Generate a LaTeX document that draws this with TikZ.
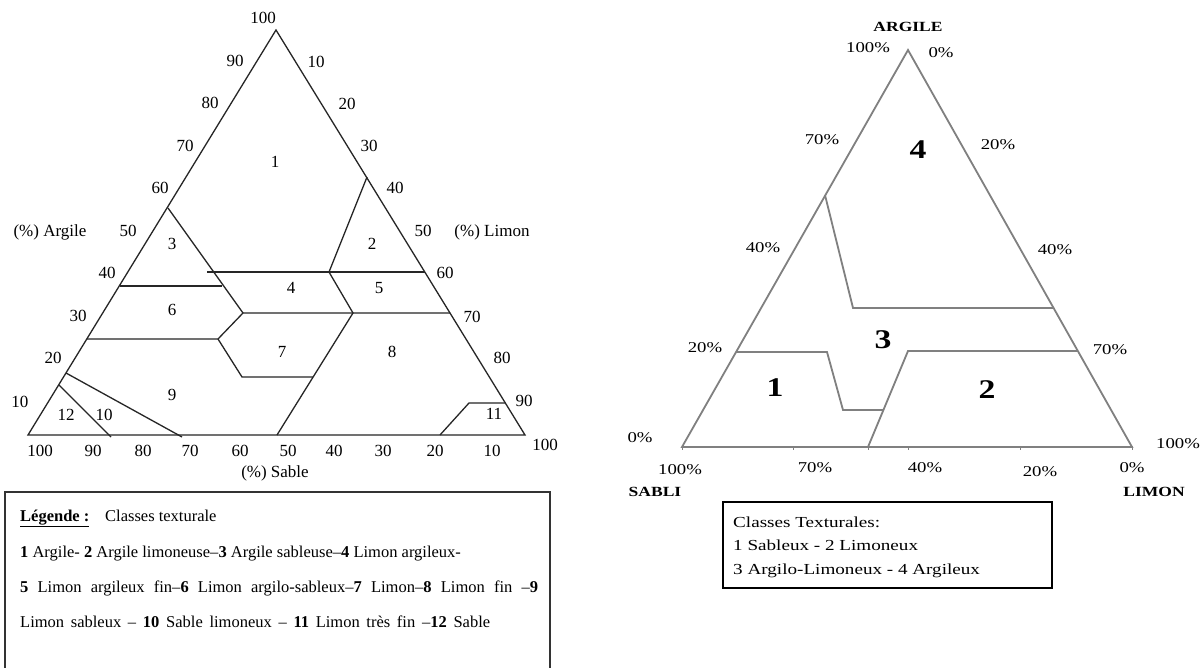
\documentclass[tikz,border=0pt]{standalone}
\usepackage{fontspec}
\setmainfont{Liberation Serif}
\newfontfamily\rfont[FakeStretch=1.25]{Liberation Serif}
\begin{document}
\begin{tikzpicture}[x=1pt,y=-1pt,
  lline/.style={draw=black!85, line width=1.3pt},
  rline/.style={draw=black!50, line width=1.8pt},
  lbl/.style={font=\fontsize{17}{20}\selectfont, inner sep=0pt},
  rlbl/.style={font=\rfont\fontsize{15}{17}\selectfont, inner sep=0pt},
  rcap/.style={font=\rfont\bfseries\fontsize{14}{16}\selectfont, inner sep=0pt},
  rnum/.style={font=\rfont\bfseries\fontsize{27}{30}\selectfont, inner sep=0pt},
  leg/.style={font=\fontsize{16.5}{20}\selectfont, inner sep=0pt, anchor=base west},
  rleg/.style={font=\rfont\fontsize{15.3}{18}\selectfont, inner sep=0pt, anchor=base west}]
\useasboundingbox (0,0) rectangle (1203,668);
\fill[white] (0,0) rectangle (1203,668);

% ---------------- left triangle ----------------
\coordinate (LA) at (28,435);
\coordinate (LB) at (525,435);
\coordinate (LC) at (276,30);
\coordinate (p1) at (168,208);
\coordinate (p2) at (367,177);
\coordinate (p3) at (329,272);
\coordinate (p4) at (425,272);
\coordinate (p5) at (207,272);
\coordinate (p6) at (120,286);
\coordinate (p7) at (222,286);
\coordinate (J1) at (243,313);
\coordinate (p8) at (450,313);
\coordinate (J2) at (353,313);
\coordinate (p9) at (87,339);
\coordinate (J3) at (218,339);
\coordinate (p10) at (242,377);
\coordinate (p11) at (313,377);
\coordinate (p12) at (277,435);
\coordinate (p13) at (66,373);
\coordinate (p14) at (182,437);
\coordinate (p15) at (59,385);
\coordinate (p16) at (111,437);
\coordinate (p17) at (440,435);
\coordinate (p18) at (469,403);
\coordinate (p19) at (505,403);

\draw[lline] (LA) -- (LB) -- (LC) -- cycle;
\draw[lline] (p1) -- (J1) -- (p8);
\draw[lline] (p5) -- (p4);
\draw[lline] (p6) -- (p7);
\draw[lline] (p2) -- (p3) -- (J2) -- (p12);
\draw[lline] (J1) -- (J3) -- (p9);
\draw[lline] (J3) -- (p10) -- (p11);
\draw[lline] (p13) -- (p14);
\draw[lline] (p15) -- (p16);
\draw[lline] (p17) -- (p18) -- (p19);

\foreach \t/\x/\y [count=\i] in {100/263/18, 90/235/61, 80/210/103, 70/185/146, 60/160/188, 50/128/231, 40/107/273, 30/78/316, 20/53/358, 10/20/402}
  \node[lbl] (la\i) at (\x,\y) {\t};
\foreach \t/\x/\y [count=\i] in {10/316/62, 20/347/104, 30/369/146, 40/395/188, 50/423/231, 60/445/273, 70/472/317, 80/502/358, 90/524/401, 100/545/445}
  \node[lbl] (lb\i) at (\x,\y) {\t};
\foreach \t/\x/\y [count=\i] in {100/40/451, 90/93/451, 80/143/451, 70/190/451, 60/240/451, 50/288/451, 40/334/451, 30/383/451, 20/435/451, 10/492/451}
  \node[lbl] (lc\i) at (\x,\y) {\t};
\node[lbl] (axA) at (50,232) {(\%) Argile};
\node[lbl] (axL) at (492,232) {(\%) Limon};
\node[lbl] (axS) at (275,473) {(\%) Sable};

\node[lbl] (n1) at (275,162) {1};
\node[lbl] (n2) at (372,244) {2};
\node[lbl] (n3) at (172,244) {3};
\node[lbl] (n4) at (291,288) {4};
\node[lbl] (n5) at (379,288) {5};
\node[lbl] (n6) at (172,310) {6};
\node[lbl] (n7) at (282,352) {7};
\node[lbl] (n8) at (392,352) {8};
\node[lbl] (n9) at (172,395) {9};
\node[lbl] (n12) at (66,415) {12};
\node[lbl] (n10) at (104,415) {10};
\node[lbl] (n11) at (494,414) {11};

% legend left
\draw[draw=black!80, line width=1.2pt] (5,680) -- (5,492) -- (550,492) -- (550,680);
\node[leg] (lg0) at (20,521) {\underline{\textbf{Légende :}}};
\node[leg] (lg0b) at (105,521) {Classes texturale};
\node[leg] (lg1) at (20,557) {\textbf{1} Argile- \textbf{2} Argile limoneuse–\textbf{3} Argile sableuse–\textbf{4} Limon argileux-};
\node[leg] (lg2) at (20,592) {\makebox[518pt][s]{\textbf{5} Limon argileux fin–\textbf{6} Limon argilo-sableux–\textbf{7} Limon–\textbf{8} Limon fin –\textbf{9}}};
\node[leg] (lg3) at (20,627) {\makebox[470pt][s]{Limon sableux – \textbf{10} Sable limoneux – \textbf{11} Limon très fin –\textbf{12} Sable}};

% ---------------- right triangle ----------------
\coordinate (RA) at (682,447);
\coordinate (RB) at (1132,447);
\coordinate (RC) at (908,50);
\coordinate (q1) at (825,195);
\coordinate (q2) at (853,308);
\coordinate (q3) at (1054,308);
\coordinate (q4) at (736,352);
\coordinate (q5) at (827,352);
\coordinate (q6) at (843,410);
\coordinate (q7) at (883,410);
\coordinate (q8) at (868,447);
\coordinate (q9) at (908,351);
\coordinate (q10) at (1078,351);

\draw[rline] (RA) -- (RB) -- (RC) -- cycle;
\draw[rline] (q1) -- (q2) -- (q3);
\draw[rline] (q4) -- (q5) -- (q6) -- (q7);
\draw[rline] (q8) -- (q9) -- (q10);
\foreach \x [count=\i] in {682,793,868,908,1020,1132}
  \draw[rline, line width=1pt] (\x,446) coordinate (tk\i) -- (\x,449.5);

\node[rcap] (tA) at (908,27) {ARGILE};
\node[rlbl] (t1) at (868,48) {100\%};
\node[rlbl] (t2) at (941,53) {0\%};
\node[rlbl] (t3) at (822,140) {70\%};
\node[rlbl] (t4) at (998,145) {20\%};
\node[rlbl] (t5) at (763,248) {40\%};
\node[rlbl] (t6) at (1055,250) {40\%};
\node[rlbl] (t7) at (705,348) {20\%};
\node[rlbl] (t8) at (1110,350) {70\%};
\node[rlbl] (t9) at (640,438) {0\%};
\node[rlbl] (t10) at (1178,444) {100\%};
\node[rlbl] (b1) at (680,470) {100\%};
\node[rlbl] (b2) at (815,468) {70\%};
\node[rlbl] (b3) at (925,468) {40\%};
\node[rlbl] (b4) at (1040,472) {20\%};
\node[rlbl] (b5) at (1132,468) {0\%};
\node[rcap] (sb) at (655,492) {SABLI};
\node[rcap] (lm) at (1154,492) {LIMON};

\node[rnum] (m4) at (918,150) {4};
\node[rnum] (m3) at (883,340) {3};
\node[rnum] (m1) at (775,388) {1};
\node[rnum] (m2) at (987,390) {2};

\draw[black, line width=2pt] (723,502) rectangle (1052,588);
\node[rleg] (rl1) at (733,527) {Classes Texturales:};
\node[rleg] (rl2) at (733,550) {1 Sableux - 2 Limoneux};
\node[rleg] (rl3) at (733,574) {3 Argilo-Limoneux - 4 Argileux};
\end{tikzpicture}
\end{document}
